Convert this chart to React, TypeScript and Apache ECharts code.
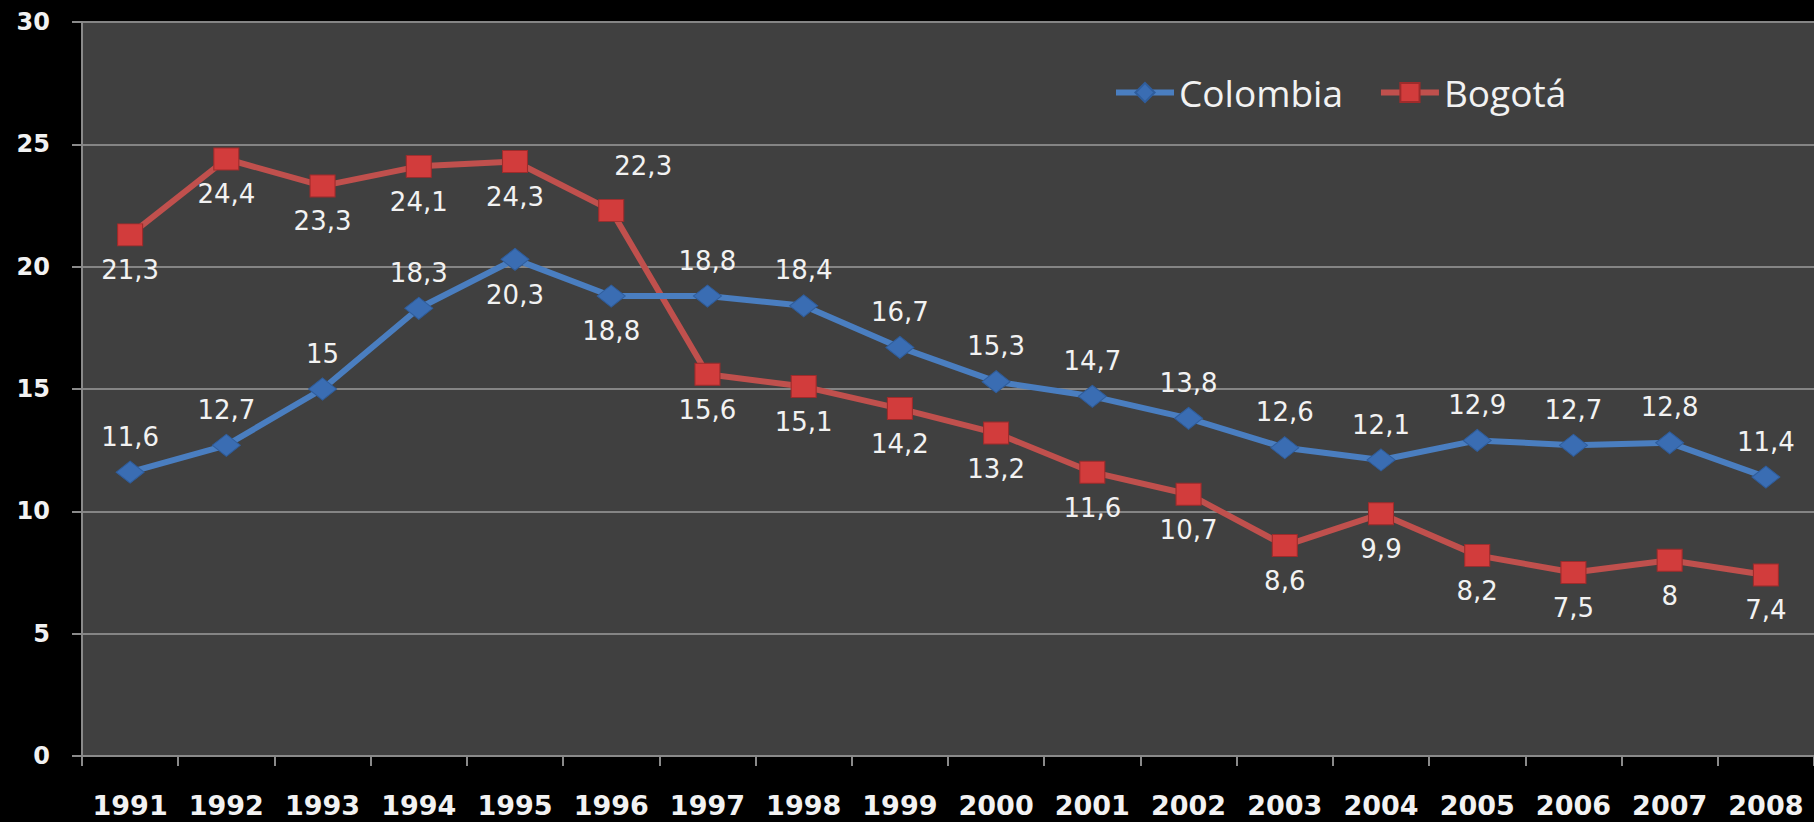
import React, { useEffect, useRef } from "react";
import * as echarts from "echarts";

const years = ["1991", "1992", "1993", "1994", "1995", "1996", "1997", "1998", "1999", "2000", "2001", "2002", "2003", "2004", "2005", "2006", "2007", "2008"];
const colombia = [11.6, 12.7, 15, 18.3, 20.3, 18.8, 18.8, 18.4, 16.7, 15.3, 14.7, 13.8, 12.6, 12.1, 12.9, 12.7, 12.8, 11.4];
const bogota = [21.3, 24.4, 23.3, 24.1, 24.3, 22.3, 15.6, 15.1, 14.2, 13.2, 11.6, 10.7, 8.6, 9.9, 8.2, 7.5, 8, 7.4];
const seriesNames = ["Colombia", "Bogotá"];
const yTicks = [0, 5, 10, 15, 20, 25, 30];

// label placement exceptions
const colombiaLabelsBelow = ["1995", "1996"];
const bogotaLabelsAbove = ["1996"];

const fmt = (v: number) => String(v).replace(".", ",");

export default function App() {
  const ref = useRef<HTMLDivElement>(null);
  useEffect(() => {
    if (!ref.current) return;
    const chart = echarts.init(ref.current, null, { renderer: "svg" });
    const labelBase = {
      show: true,
      color: "#f2f2f2",
      fontFamily: "DejaVu Sans",
      fontSize: 26,
      distance: 11,
      formatter: (p: any) => fmt(p.value),
    };
    const colData = colombia.map((v, i) => ({
      value: v,
      label: { position: colombiaLabelsBelow.includes(years[i]) ? "bottom" : "top" },
    }));
    const bogData = bogota.map((v, i) => {
      const above = bogotaLabelsAbove.includes(years[i]);
      return {
        value: v,
        label: above ? { position: "top", offset: [32, -9] } : { position: "bottom" },
      };
    });
    chart.setOption({
      animation: false,
      backgroundColor: "#000000",
      legend: {
        data: seriesNames.map((n) => ({ name: n })),
        left: 1108,
        top: 69,
        itemWidth: 58,
        itemHeight: 24,
        itemGap: 35,
        lineStyle: { width: 6 },
        textStyle: { color: "#f2f2f2", fontSize: 37, fontFamily: "Open Sans" },
      },
      grid: {
        left: 82,
        top: 22,
        width: 1735,
        height: 734,
        show: true,
        backgroundColor: "#404040",
        borderWidth: 0,
      },
      xAxis: {
        type: "category",
        data: years,
        boundaryGap: true,
        axisLine: { lineStyle: { color: "#8a8a8a", width: 2 } },
        axisTick: { show: true, length: 10, lineStyle: { color: "#8a8a8a", width: 2 } },
        axisLabel: {
          color: "#f2f2f2",
          fontFamily: "DejaVu Sans",
          fontWeight: "bold",
          fontSize: 27,
          margin: 36,
          interval: 0,
        },
      },
      yAxis: {
        type: "value",
        min: yTicks[0],
        max: yTicks[yTicks.length - 1],
        interval: 5,
        axisLine: { show: true, lineStyle: { color: "#8a8a8a", width: 2 } },
        axisTick: { show: true, length: 10, lineStyle: { color: "#8a8a8a", width: 2 } },
        splitLine: { lineStyle: { color: "#858585", width: 2 } },
        axisLabel: {
          color: "#f2f2f2",
          fontFamily: "DejaVu Sans",
          fontWeight: "bold",
          fontSize: 24,
          margin: 32,
        },
      },
      series: [
        {
          name: seriesNames[0],
          type: "line",
          data: colData,
          symbol: "diamond",
          symbolSize: [28, 22],
          lineStyle: { color: "#4a7ec0", width: 6 },
          itemStyle: { color: "#3a6db3", borderColor: "#2f5d9c", borderWidth: 1 },
          label: labelBase,
          z: 3,
        },
        {
          name: seriesNames[1],
          type: "line",
          data: bogData,
          symbol: "rect",
          symbolSize: [25, 22],
          lineStyle: { color: "#c0504d", width: 6 },
          itemStyle: { color: "#d23c3c", borderColor: "#9e2b2b", borderWidth: 1 },
          label: labelBase,
          z: 2,
        },
      ],
    });
    return () => chart.dispose();
  }, []);
  return (
    <div
      ref={ref}
      style={{ position: "absolute", left: 0, top: 0, width: 1814, height: 822, background: "#000" }}
    />
  );
}
